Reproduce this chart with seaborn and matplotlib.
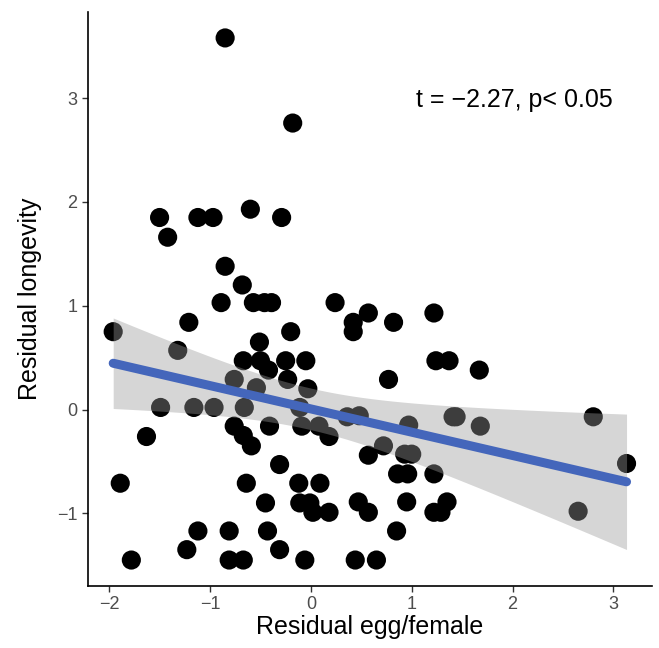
import numpy as np
import pandas as pd
import matplotlib
matplotlib.use("Agg")
import matplotlib.pyplot as plt
import seaborn as sns

# residuals
egg_resid = [-0.85, -0.18, -1.50, -1.42, -1.12, -0.97, -0.60, -0.29, -0.85, -0.68,
             -0.89, -0.57, -0.46, -0.39, 0.24, -0.20, -1.21, -1.96, -1.32, -0.51,
             -0.67, -0.50, -0.25, -0.05, -0.42, -0.23, -0.76, -0.54, -0.03, 0.42,
             0.42, 0.57, 0.82, 1.22, 1.24, 1.37, 1.67, 0.77, -1.49, -1.16,
             -0.96, -0.66, -0.11, 0.36, 0.48, -1.63, -0.76, -0.67, -0.59, -0.41,
             -0.09, 0.08, 0.18, -0.31, 0.97, 1.41, 1.44, 1.68, 2.80, 3.13,
             0.72, 0.57, 0.93, 1.00, 0.86, 0.96, 1.22, -1.89, -0.64, -0.12,
             0.09, -0.45, -0.11, -0.01, 0.02, 0.18, 0.47, 0.57, 0.95, 1.22,
             1.29, 1.35, 2.65, -1.12, -0.81, -0.43, 0.85, -1.23, -0.31, -1.78,
             -0.81, -0.67, -0.06, 0.44, 0.65]
longevity_resid = [3.58, 2.76, 1.85, 1.66, 1.85, 1.85, 1.93, 1.85, 1.38, 1.20,
                   1.03, 1.03, 1.03, 1.03, 1.03, 0.75, 0.84, 0.75, 0.57, 0.65,
                   0.47, 0.47, 0.47, 0.47, 0.38, 0.29, 0.29, 0.21, 0.20, 0.84,
                   0.75, 0.93, 0.84, 0.93, 0.47, 0.47, 0.38, 0.29, 0.02, 0.02,
                   0.02, 0.02, 0.02, -0.07, -0.06, -0.26, -0.16, -0.25, -0.35, -0.16,
                   -0.16, -0.16, -0.26, -0.53, -0.15, -0.07, -0.07, -0.16, -0.07, -0.52,
                   -0.35, -0.44, -0.43, -0.43, -0.62, -0.62, -0.62, -0.71, -0.71, -0.71,
                   -0.71, -0.90, -0.90, -0.90, -0.99, -0.99, -0.89, -0.99, -0.89, -0.99,
                   -0.99, -0.89, -0.98, -1.17, -1.17, -1.17, -1.17, -1.35, -1.35, -1.45,
                   -1.45, -1.45, -1.45, -1.45, -1.45]
x_ticks = [-2, -1, 0, 1, 2, 3]
y_ticks = [-1, 0, 1, 2, 3]
stat_label = "t = \u22122.27, p< 0.05"

df = pd.DataFrame({"egg": egg_resid, "longevity": longevity_resid})

sns.set_style("ticks")
plt.rcParams["font.family"] = ["Liberation Sans", "DejaVu Sans"]

fig = plt.figure(figsize=(6.59, 6.48), dpi=100)
ax = fig.add_axes([0.1335, 0.0957, 0.8555, 0.8858])

sns.scatterplot(data=df, x="egg", y="longevity", color="black", s=190,
                edgecolor="none", linewidth=0, ax=ax, zorder=2)
sns.regplot(data=df, x="egg", y="longevity", scatter=False, ci=None, ax=ax,
            line_kws={"color": "#4466BB", "lw": 6.5, "zorder": 4})

# 95% confidence ribbon of the linear fit (t-based, like geom_smooth), over the points
x = df["egg"].to_numpy()
y = df["longevity"].to_numpy()
n = len(x)
slope, intercept = np.polyfit(x, y, 1)
resid = y - (intercept + slope * x)
s_err = np.sqrt(np.sum(resid ** 2) / (n - 2))
grid = np.linspace(x.min(), x.max(), 100)
se_fit = s_err * np.sqrt(1 / n + (grid - x.mean()) ** 2 / np.sum((x - x.mean()) ** 2))
t_crit = 1.986  # t(0.975, df ~ 93)
fit = intercept + slope * grid
ax.fill_between(grid, fit - t_crit * se_fit, fit + t_crit * se_fit,
                color="#999999", alpha=0.4, linewidth=0, zorder=3)

ax.text(2.02, 2.98, stat_label, ha="center", va="center", fontsize=18, color="black")

ax.set_xlim(-2.21, 3.38)
ax.set_ylim(-1.70, 3.83)
ax.set_xticks(x_ticks)
ax.set_yticks(y_ticks)
ax.set_xticklabels([f"{t}".replace("-", "\u2212") for t in x_ticks])
ax.set_yticklabels([f"{t}".replace("-", "\u2212") for t in y_ticks])
ax.tick_params(labelsize=13, labelcolor="#4D4D4D", color="#333333", length=4, width=1)
ax.set_xlabel("Residual egg/female", fontsize=18, color="black")
ax.set_ylabel("Residual longevity", fontsize=18, color="black")
ax.yaxis.set_label_coords(-0.082, 0.5)
ax.xaxis.set_label_coords(0.5, -0.05)
sns.despine(ax=ax)
for sp in ["left", "bottom"]:
    ax.spines[sp].set_linewidth(1.2)
    ax.spines[sp].set_color("black")

fig.savefig("out.png", dpi=100)
